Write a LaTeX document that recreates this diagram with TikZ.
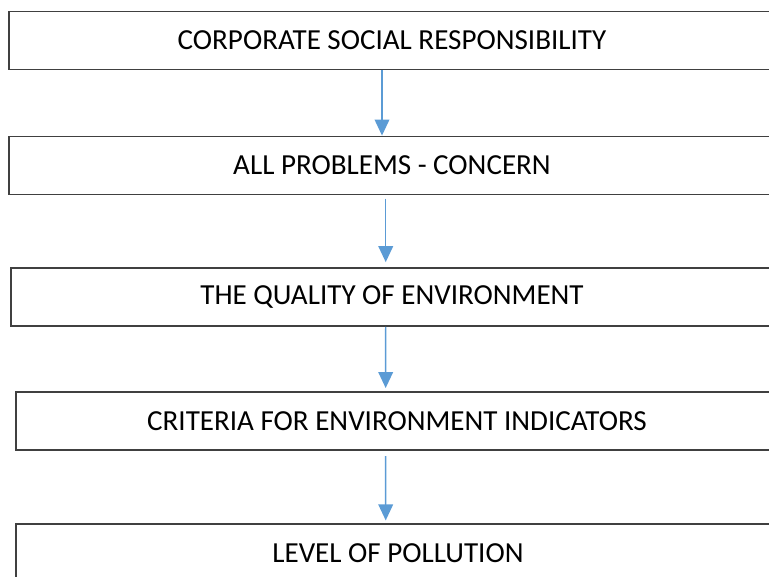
\documentclass[tikz,border=0pt]{standalone}
\usepackage{fontspec}
\setmainfont{Carlito}
\usepackage{tikz}
\usetikzlibrary{arrows.meta}
\definecolor{flowblue}{HTML}{5B9BD5}
\definecolor{boxgray}{HTML}{404040}

\begin{document}
\begin{tikzpicture}[x=0.75pt,y=-0.75pt]
			\tikzset{
				level/.style={rectangle, draw=boxgray, line width=1.4pt, minimum height=43.5pt, inner sep=0pt, font=\fontsize{21.8}{26}\selectfont},
				flow/.style={draw=flowblue, line width=1.1pt, -{Triangle[width=11pt,length=12pt]}}
			}
			\useasboundingbox (0,0) rectangle (769,576);
			\clip (0,0) rectangle (769,576);

			% Level 1: responsibility
			\node[level, minimum width=574.5pt] (csr) at (392,40.5) {CORPORATE SOCIAL RESPONSIBILITY};

			% Level 2: problems
			\node[level, minimum width=574.5pt] (concern) at (392,165.5) {ALL PROBLEMS - CONCERN};

			% Level 3: quality
			\node[level, minimum width=571.5pt] (quality) at (392,297) {THE QUALITY OF ENVIRONMENT};

			% Level 4: indicators
			\node[level, minimum width=571.5pt] (criteria) at (397,421.3) {CRITERIA FOR ENVIRONMENT INDICATORS};

			% Level 5: pollution
			\node[level, minimum width=573pt] (pollution) at (398,553) {LEVEL OF POLLUTION};

			% arrows between levels
			\draw[flow] ([xshift=-7.5pt]csr.south) -- ([xshift=-7.5pt]concern.north);
			\draw[flow, shorten <=2.4pt, shorten >=3.7pt] ([xshift=-4.7pt]concern.south) -- ([xshift=-4.7pt]quality.north);
			\draw[flow, shorten >=2.5pt] ([xshift=-4.7pt]quality.south) -- ([xshift=-8.5pt]criteria.north);
			\draw[flow, shorten <=3.7pt, shorten >=2pt] ([xshift=-8.5pt]criteria.south) -- ([xshift=-9.2pt]pollution.north);
\end{tikzpicture}
\end{document}
